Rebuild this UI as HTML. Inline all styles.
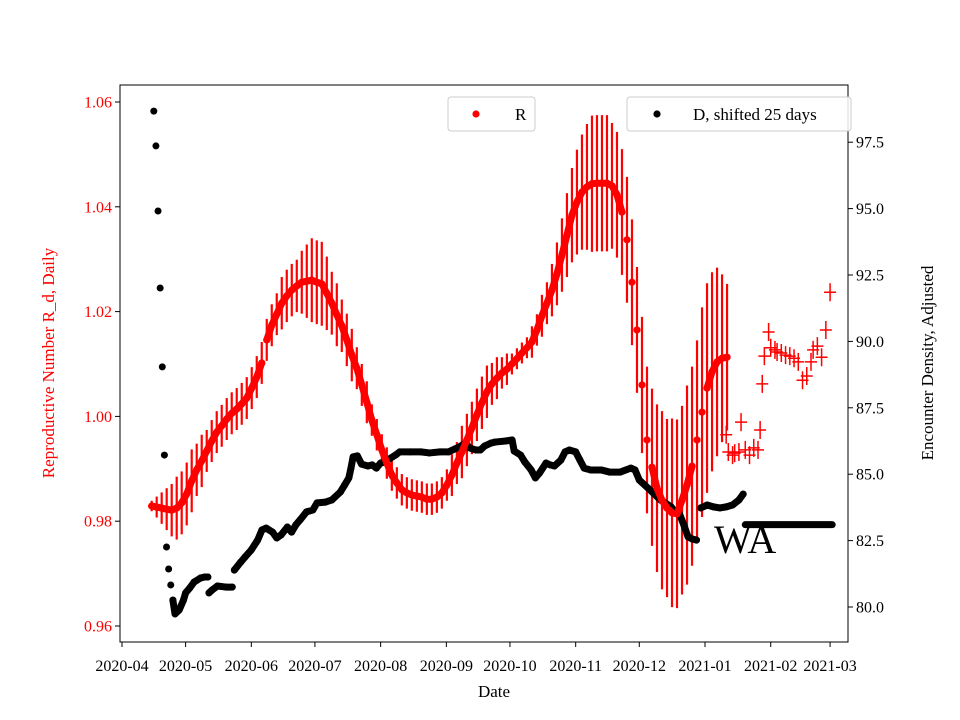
<!DOCTYPE html>
<html><head><meta charset="utf-8"><style>
html,body{margin:0;padding:0;background:#fff;}
svg{display:block;font-family:"Liberation Serif",serif;}
</style></head><body>
<svg id="chart" width="960" height="720" viewBox="0 0 960 720">
<rect x="0" y="0" width="960" height="720" fill="#fff"/>
<g id="plot"></g>
<g id="axes"></g>
</svg>
<script>
// ---- data ----
const rStartDay = 14;          // days since 2020-04-01 of first R sample
const rStepDays = 2.36;        // sampling interval of R samples
const rValues = [0.9829,0.9827,0.9825,0.9823,0.9821,0.9825,0.9835,0.9852,0.9877,0.9898,0.9915,0.9934,0.9953,
0.9970,0.9982,0.9995,1.0006,1.0014,1.0024,1.0035,1.0054,1.0075,1.0102,1.0146,1.0174,1.0195,1.0216,1.0230,1.0241,
1.0249,1.0256,1.0258,1.0260,1.0256,1.0253,1.0235,1.0216,1.0194,1.0173,1.0146,1.0117,1.0092,1.0060,1.0027,0.9993,
0.9965,0.9936,0.9911,0.9888,0.9873,0.9860,0.9854,0.9850,0.9848,0.9846,0.9842,0.9842,0.9846,0.9854,0.9869,0.9888,
0.9911,0.9932,0.9955,0.9978,1.0003,1.0026,1.0047,1.0062,1.0073,1.0083,1.0090,1.0100,1.0110,1.0121,1.0131,1.0142,
1.0165,1.0192,1.0216,1.0241,1.0272,1.0308,1.0346,1.0384,1.0409,1.0428,1.0438,1.0444,1.0445,1.0445,1.0445,1.0440,
1.0423,1.0390,1.0337,1.0256,1.0165,1.0060,0.9955,0.9903,0.9863,0.9840,0.9825,0.9816,0.9814,0.9840,0.9869,0.9905,
0.9955,1.0008,1.0054,1.0085,1.0104,1.0111,1.0113];
const rErrors = [0.001,0.002,0.003,0.004,0.005,0.006,
0.006,0.006,0.006,0.005,0.005,0.004,0.004,
0.004,0.004,0.004,0.004,0.004,0.004,0.004,0.004,0.004,
0.004,0.004,0.004,0.004,0.005,0.005,0.005,0.005,0.006,
0.007,0.008,0.008,0.008,0.007,0.006,0.006,
0.005,0.005,0.005,0.004,0.004,0.004,0.003,
0.003,0.003,0.003,0.003,0.003,0.003,0.003,0.003,0.003,0.003,0.003,0.003,0.003,
0.003,0.003,0.004,0.004,0.005,0.005,0.005,
0.005,0.005,0.005,0.004,0.004,0.003,0.003,
0.002,0.002,0.002,0.002,0.003,0.003,0.004,0.004,0.005,
0.006,0.007,0.008,0.009,0.010,0.011,0.012,0.013,0.013,
0.013,0.013,0.012,0.012,0.012,0.012,0.012,0.012,0.013,0.014,
0.015,0.016,0.017,0.017,0.018,0.018,0.018,0.019,0.019,0.019,
0.020,0.020,0.019,0.018,0.016,0.014];
const plusDays = [285,286,288,289,291,292,294,296,298,300,301,302,303,305,306,308,309,311,313,315,317,319,321,323,325,326,328,330,332,334];
const plusValues = [0.9965,0.9932,0.9926,0.9930,0.9932,0.9989,0.9936,0.9926,0.9940,0.9936,0.9974,1.0062,1.0115,1.0161,1.0131,
1.0127,1.0123,1.0121,1.0117,1.0115,1.0111,1.0104,1.0069,1.0077,1.0104,1.0127,1.0134,1.0113,1.0165,1.0237];
const dDays = [15,16,17,18,19,20,21,22,23,24,25,27,29,30,32,34,37,39,40.5,41,42.5,45,49,52,53,56,58,61,64,66,68,71,73,75,78,80,
82,84,87,90,92,96,99,103,105,107,108,109,111,113,116,118,120,122,124,126,129,131,136,141,145,150,154,157,159,162,164,
167,169,171,174,176,181,184,185,188,190,193,195,197,200,202,204,207,209,211,214,216,218,221,226,230,235,240,242,244,
249,254,259,261,263,265,267,269,271,273,276,279,282,285,288,291,293];
const dValues = [98.67,97.36,94.91,92.01,89.04,85.72,82.26,81.43,80.83,80.26,79.74,79.89,80.26,80.53,80.72,80.94,81.09,81.13,81.13,
80.53,80.64,80.79,80.75,80.75,81.39,81.69,81.88,82.15,82.52,82.90,82.97,82.82,82.60,82.71,83.01,82.82,83.09,83.28,83.58,
83.65,83.92,83.95,84.03,84.33,84.59,84.86,85.23,85.65,85.69,85.38,85.31,85.35,85.23,85.42,85.46,85.57,85.72,85.84,85.84,
85.84,85.80,85.84,85.84,85.95,86.02,86.17,85.99,85.91,85.91,86.06,86.17,86.21,86.25,86.29,85.87,85.72,85.46,85.16,84.86,
85.05,85.42,85.35,85.31,85.53,85.84,85.91,85.84,85.53,85.23,85.16,85.16,85.08,85.08,85.23,85.16,84.78,84.41,84.03,83.77,
83.58,83.50,83.09,82.64,82.56,82.52,83.73,83.84,83.77,83.73,83.77,83.84,84.03,84.25];
const flatStartDay = 294, flatEndDay = 335, flatValue = 83.1;
const xTickLabels = ["2020-04","2020-05","2020-06","2020-07","2020-08","2020-09","2020-10","2020-11","2020-12","2021-01","2021-02","2021-03"];
const xTickDays = [0,30,61,91,122,153,183,214,244,275,306,334];
const leftTicks = [0.96,0.98,1.00,1.02,1.04,1.06];
const rightTicks = [80.0,82.5,85.0,87.5,90.0,92.5,95.0,97.5];

// ---- scales ----
const L=120,R=848,T=85,B=642;
const xs = d => 122 + d*2.12;
const yl = v => 102 + (1.06-v)/0.02*104.8;
const yr = v => 607 - (v-80)*26.56;
const NS="http://www.w3.org/2000/svg";
const plot=document.getElementById('plot'), axes=document.getElementById('axes');
function mk(tag,attrs,parent){const e=document.createElementNS(NS,tag);for(const k in attrs)e.setAttribute(k,attrs[k]);parent.appendChild(e);return e;}

// R error bars
const nR=Math.min(rValues.length,rErrors.length);
for(let i=0;i<nR;i++){
  const x=xs(rStartDay+i*rStepDays);
  const e=mk('line',{x1:x,x2:x,y1:yl(rValues[i]+rErrors[i]),y2:yl(rValues[i]-rErrors[i]),stroke:'#f00','stroke-width':2.2},plot);
  
  
}
// D dots/line
let segPts=[];
function flushSeg(){ if(segPts.length>1){const p=mk('polyline',{points:segPts.join(' '),fill:'none',stroke:'#000','stroke-width':7,'stroke-linecap':'round','stroke-linejoin':'round'},plot);
  
  } segPts=[];}
let prev=null;
for(let i=0;i<Math.min(dDays.length,dValues.length);i++){
  const x=xs(dDays[i]),y=yr(dValues[i]);
  if(prev && (Math.abs(y-prev[1])>15 || x-prev[0]>14)) flushSeg();
  segPts.push(x+','+y); prev=[x,y];
  const c=mk('circle',{cx:x,cy:y,r:3.5,fill:'#000'},plot);
  
  
}
flushSeg();
const flat=mk('line',{x1:xs(flatStartDay),x2:xs(flatEndDay),y1:yr(flatValue),y2:yr(flatValue),stroke:'#000','stroke-width':7,'stroke-linecap':'round'},plot);



// R line + dots
let rp=[],rprev=null;
function flushR(){ if(rp.length>1){const p=mk('polyline',{points:rp.join(' '),fill:'none',stroke:'#f00','stroke-width':7,'stroke-linecap':'round','stroke-linejoin':'round'},plot);
  
  } rp=[];}
for(let i=0;i<rValues.length;i++){
  const x=xs(rStartDay+i*rStepDays),y=yl(rValues[i]);
  if(rprev && Math.abs(y-rprev)>22) flushR();
  rp.push(x+','+y); rprev=y;
  const c=mk('circle',{cx:x,cy:y,r:3.6,fill:'#f00'},plot);
  
  
}
flushR();
// plus markers
for(let i=0;i<Math.min(plusDays.length,plusValues.length);i++){
  const x=xs(plusDays[i]),y=yl(plusValues[i]);
  const g=mk('path',{d:`M${x-6},${y}H${x+6}M${x},${y-9}V${y+9}`,stroke:'#f00','stroke-width':1.5,fill:'none'},plot);
  
  
}

// frame
const fr=mk('rect',{x:L,y:T,width:R-L,height:B-T,fill:'none',stroke:'#000','stroke-width':1},axes);


// x ticks
xTickLabels.forEach((lab,i)=>{
  const x=xs(xTickDays[i]);
  const t=mk('line',{x1:x,x2:x,y1:B,y2:B+5,stroke:'#000'},axes);
  
  
  const tx=mk('text',{x:x,y:B+29,'font-size':16,'text-anchor':'middle',fill:'#000'},axes);
  tx.textContent=lab;
  
  
});
leftTicks.forEach(v=>{
  const y=yl(v);
  const t=mk('line',{x1:L-5,x2:L,y1:y,y2:y,stroke:'#000'},axes);
  
  
  const tx=mk('text',{x:L-8,y:y+5.5,'font-size':16,'text-anchor':'end',fill:'#f00'},axes);
  tx.textContent=v.toFixed(2);
  
  
});
rightTicks.forEach(v=>{
  const y=yr(v);
  const t=mk('line',{x1:R,x2:R+5,y1:y,y2:y,stroke:'#000'},axes);
  
  
  const tx=mk('text',{x:R+8,y:y+5.5,'font-size':16,fill:'#000'},axes);
  tx.textContent=v.toFixed(1);
  
  
});
</script>
<script>
(function(){
const NS="http://www.w3.org/2000/svg";const s=document.getElementById('chart');
function t(attrs,txt,name){const e=document.createElementNS(NS,'text');for(const k in attrs)e.setAttribute(k,attrs[k]);e.textContent=txt;


s.appendChild(e);return e;}
t({x:494,y:697,'font-size':17,'text-anchor':'middle'},'Date','x-axis-title');
t({x:54,y:363,'font-size':17,'text-anchor':'middle',fill:'#f00',transform:'rotate(-90 54 363)'},'Reproductive Number R_d, Daily','left-axis-title');
t({x:933,y:363,'font-size':17,'text-anchor':'middle',transform:'rotate(-90 933 363)'},'Encounter Density, Adjusted','right-axis-title');
t({x:714,y:553,'font-size':40},'WA','region-label');
})();
</script>
<div style="position:absolute;left:0;top:0;width:960px;height:720px;pointer-events:none">
<svg width="960" height="720" style="position:absolute;left:0;top:0;font-family:'Liberation Serif',serif">
<g>
<rect x="448" y="97" width="87" height="34" rx="3" fill="#fff" fill-opacity="0.85" stroke="#ccc"/>
<circle cx="476" cy="114" r="3.6" fill="#f00"/>
<text x="515" y="120" font-size="17">R</text>
</g>
<g>
<rect x="627" y="97" width="224" height="34" rx="3" fill="#fff" fill-opacity="0.85" stroke="#ccc"/>
<circle cx="657" cy="114" r="3.6" fill="#000"/>
<text x="693" y="120" font-size="17">D, shifted 25 days</text>
</g>
</svg>
</div>
</body></html>
